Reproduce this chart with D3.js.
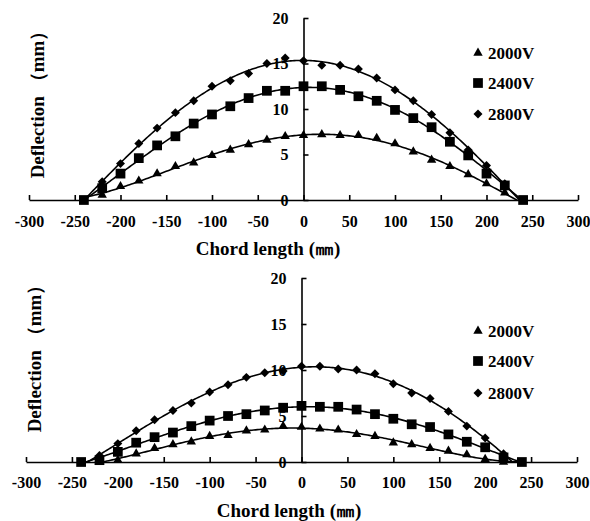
<!DOCTYPE html>
<html lang="en">
<head>
    <meta charset="UTF-8">
    <script src="https://cdn.jsdelivr.net/npm/d3@7"></script>
    <title>Deflection</title>
    <style>
        body { margin: 0; background: #fff; }
        svg text { font-family: "Liberation Serif", "Times New Roman", serif; fill: #000; }
    </style>
</head>
<body>
    <svg width="590" height="521"></svg>

    <script>
        // chord positions (mm) and tick labels
        const xTicks = [-300, -250, -200, -150, -100, -50, 0, 50, 100, 150, 200, 250, 300]
        const yTicks = [0, 5, 10, 15, 20]
        const seriesNames = ['2000V', '2400V', '2800V']

        const chord22 = [-220, -200, -180, -160, -140, -120, -100, -80, -60, -40, -20,
                         0, 20, 40, 60, 80, 100, 120, 140, 160, 180, 200, 220]
        const chord24 = [-240, -220, -200, -180, -160, -140, -120, -100, -80, -60, -40, -20,
                         0, 20, 40, 60, 80, 100, 120, 140, 160, 180, 200, 220, 240]

        // upper chart
        const top2000 = [0.55, 1.5, 2.1, 2.9, 3.7, 4.1, 4.9, 5.5, 6.1, 6.6, 7.0,
                         7.1, 7.2, 7.1, 7.1, 6.8, 6.2, 5.3, 4.4, 3.7, 2.8, 1.8, 0.8]
        const top2400 = [0, 1.3, 2.9, 4.6, 6.0, 7.0, 8.4, 9.4, 10.3, 11.2, 12.0, 12.0,
                         12.5, 12.5, 12.1, 11.4, 10.9, 9.9, 9.0, 8.0, 6.4, 4.9, 2.9, 1.6, 0]
        const top2800 = [2.0, 4.0, 6.2, 7.9, 9.6, 10.9, 12.5, 13.1, 13.9, 15.0, 15.6,
                         15.3, 14.8, 14.8, 14.4, 13.4, 12.1, 10.9, 9.4, 7.4, 5.5, 3.8, 1.8]

        // lower chart
        const bot2000 = [0, 0.2, 0.9, 1.5, 1.9, 2.2, 2.8, 2.9, 3.4, 3.5, 3.9,
                         3.8, 3.6, 3.5, 3.0, 2.8, 2.1, 1.9, 1.5, 1.2, 0.8, 0.3, 0]
        const bot2400 = [0, 0.2, 1.1, 2.1, 2.7, 3.2, 3.9, 4.5, 5.0, 5.2, 5.6, 5.9,
                         6.1, 6.0, 6.0, 5.7, 5.2, 4.7, 4.1, 3.8, 3.0, 2.2, 1.6, 0.5, 0]
        const bot2800 = [0.7, 2.0, 3.4, 4.6, 5.6, 6.4, 7.6, 8.4, 9.2, 9.7, 9.9,
                         10.4, 10.4, 10.1, 10.0, 9.6, 8.5, 7.5, 6.9, 5.5, 3.9, 2.6, 0.9]

        const svg = d3.select('svg')
        const serif = '"Liberation Serif", "Times New Roman", serif'

        // least squares polynomial trend line (like the spreadsheet one)
        function polyFit(xs, ys, deg) {
            const n = deg + 1
            const A = d3.range(n).map(() => new Array(n + 1).fill(0))
            xs.forEach((x, k) => {
                const t = x / 240
                for (let i = 0; i < n; i++) {
                    for (let j = 0; j < n; j++) A[i][j] += Math.pow(t, i + j)
                    A[i][n] += ys[k] * Math.pow(t, i)
                }
            })
            for (let i = 0; i < n; i++) {
                let p = i
                for (let r = i + 1; r < n; r++) if (Math.abs(A[r][i]) > Math.abs(A[p][i])) p = r
                ;[A[i], A[p]] = [A[p], A[i]]
                for (let r = 0; r < n; r++) {
                    if (r === i) continue
                    const f = A[r][i] / A[i][i]
                    for (let c = i; c <= n; c++) A[r][c] -= f * A[i][c]
                }
            }
            const coef = A.map((row, i) => row[n] / row[i])
            return x => coef.reduce((s, c, i) => s + c * Math.pow(x / 240, i), 0)
        }

        function drawPanel(cfg) {
            const x = d3.scaleLinear().domain([-300, 300]).range(cfg.xRange)
            const y = d3.scaleLinear().domain([0, 20]).range(cfg.yRange)
            const g = svg.append('g')

            g.append('clipPath').attr('id', cfg.id)
                .append('rect')
                .attr('x', cfg.xRange[0]).attr('y', cfg.yRange[1])
                .attr('width', cfg.xRange[1] - cfg.xRange[0])
                .attr('height', cfg.yRange[0] - cfg.yRange[1])

            // x axis, ticks inside, plain hyphen for negatives
            const xa = g.append('g')
                .attr('transform', `translate(0,${y(0)})`)
                .call(d3.axisBottom(x).tickValues(xTicks).tickFormat(d => String(d))
                    .tickSizeInner(-5).tickSizeOuter(0).tickPadding(cfg.xPad))
            // y axis through zero
            const ya = g.append('g')
                .attr('transform', `translate(${x(0)},0)`)
                .call(d3.axisLeft(y).tickValues(yTicks).tickFormat(d => String(d))
                    .tickSizeInner(-5).tickSizeOuter(0).tickPadding(15))
            ;[xa, ya].forEach(a => {
                a.attr('font-family', serif)
                a.selectAll('path, line').attr('stroke', '#000').attr('stroke-width', 1.6)
                a.selectAll('text').attr('font-size', 16).attr('font-weight', 'bold')
            })

            // trend lines
            const sets = [[chord22, cfg.s2000], [chord24, cfg.s2400], [chord22, cfg.s2800]]
            const xsLine = d3.range(-240, 240.5, 2)
            const line = d3.line().x(d => x(d[0])).y(d => y(d[1]))
            sets.forEach(([cx, vals]) => {
                const f = polyFit(cx, vals, 4)
                g.append('path')
                    .attr('clip-path', `url(#${cfg.id})`)
                    .attr('d', line(xsLine.map(v => [v, f(v)])))
                    .attr('fill', 'none').attr('stroke', '#000').attr('stroke-width', 1.6)
            })

            // markers
            const shapes = [
                d3.symbol().type(d3.symbolTriangle).size(38),
                d3.symbol().type(d3.symbolSquare).size(95),
                d3.symbol().type(d3.symbolSquare).size(40)
            ]
            const rot = [0, 0, 45]
            sets.forEach(([cx, vals], k) => {
                g.append('g').selectAll('path')
                    .data(vals)
                    .enter()
                    .append('path')
                    .attr('d', shapes[k]())
                    .attr('transform', (d, i) => `translate(${x(cx[i])},${y(d)}) rotate(${rot[k]})`)
                    .attr('fill', '#000')
            })

            // legend
            seriesNames.forEach((name, k) => {
                const ly = cfg.legendY[k]
                g.append('path')
                    .attr('d', shapes[k]())
                    .attr('transform', `translate(478,${ly}) rotate(${rot[k]})`)
                    .attr('fill', '#000')
                g.append('text')
                    .attr('x', 488).attr('y', ly + 6)
                    .attr('font-size', 17).attr('font-weight', 'bold')
                    .text(name)
            })

            // axis titles
            g.append('text')
                .attr('x', cfg.xTitle[0]).attr('y', cfg.xTitle[1])
                .attr('text-anchor', 'middle')
                .attr('font-size', 19).attr('font-weight', 'bold')
                .text('Chord length (㎜)')
            g.append('text')
                .attr('transform', `translate(${cfg.yTitle[0]},${cfg.yTitle[1]}) rotate(-90)`)
                .attr('text-anchor', 'middle')
                .attr('font-size', 19).attr('font-weight', 'bold')
                .text('Deflection （mm）')
        }

        drawPanel({
            id: 'clipTop', xRange: [29, 578], yRange: [200, 18], xPad: 16,
            s2000: top2000, s2400: top2400, s2800: top2800,
            legendY: [53, 83, 114], xTitle: [268, 255], yTitle: [44, 100]
        })
        drawPanel({
            id: 'clipBot', xRange: [26, 577], yRange: [462, 278], xPad: 15,
            s2000: bot2000, s2400: bot2400, s2800: bot2800,
            legendY: [331, 361, 393], xTitle: [289, 517], yTitle: [41, 354]
        })
    </script>
</body>
</html>
